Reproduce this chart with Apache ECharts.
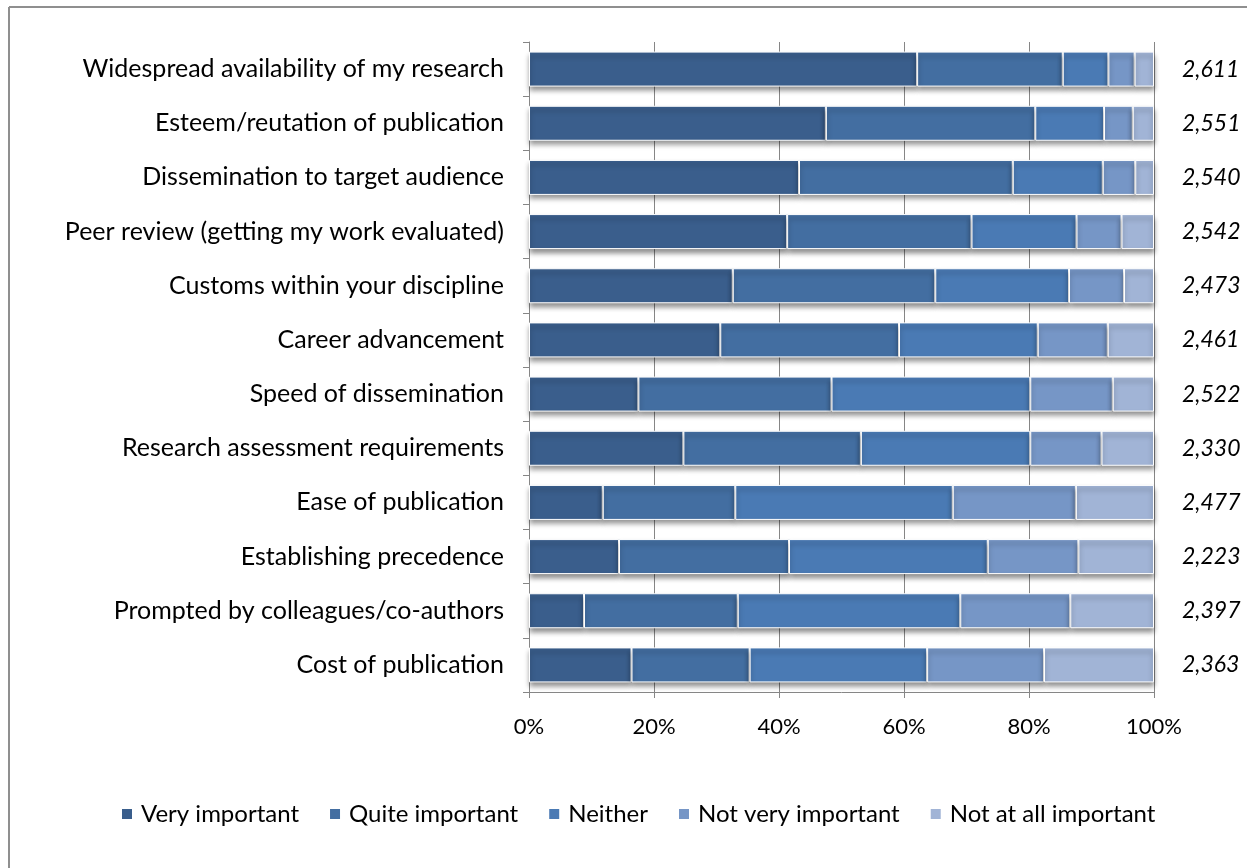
<!DOCTYPE html>
<html>
<head>
<meta charset="utf-8">
<script src="https://cdn.jsdelivr.net/npm/echarts@6/dist/echarts.min.js"></script>
<style>
html,body{margin:0;padding:0;background:#fff;}
#chart{width:1247px;height:868px;}
</style>
</head>
<body>
<div id="chart"></div>
<script>
const categories = [
  'Widespread availability of my research',
  'Esteem/reutation of publication',
  'Dissemination to target audience',
  'Peer review (getting my work evaluated)',
  'Customs within your discipline',
  'Career advancement',
  'Speed of dissemination',
  'Research assessment requirements',
  'Ease of publication',
  'Establishing precedence',
  'Prompted by colleagues/co-authors',
  'Cost of publication'
];
const respondents = ['2,611','2,551','2,540','2,542','2,473','2,461','2,522','2,330','2,477','2,223','2,397','2,363'];
const veryImportant  = [62.1, 47.5, 43.2, 41.3, 32.6, 30.6, 17.5, 24.7, 11.8, 14.4, 8.8, 16.4];
const quiteImportant = [23.3, 33.5, 34.2, 29.5, 32.4, 28.6, 30.9, 28.4, 21.2, 27.2, 24.6, 18.9];
const neither        = [7.3, 11.0, 14.4, 16.8, 21.4, 22.2, 31.8, 27.1, 34.8, 31.8, 35.6, 28.4];
const notVery        = [4.2, 4.6, 5.2, 7.2, 8.8, 11.2, 13.2, 11.4, 19.7, 14.5, 17.6, 18.7];
const notAtAll       = [3.1, 3.4, 3.0, 5.2, 4.8, 7.4, 6.6, 8.4, 12.5, 12.1, 13.4, 17.6];
const seriesNames = ['Very important','Quite important','Neither','Not very important','Not at all important'];
const seriesColors = ['#3A5E8C','#436EA1','#4A7AB4','#7696C6','#A1B4D6'];
const seriesData = [veryImportant, quiteImportant, neither, notVery, notAtAll];

const FONT = 'Lato';
const chart = echarts.init(document.getElementById('chart'), null, {renderer:'canvas'});
chart.setOption({
  animation:false,
  backgroundColor:'#fff',
  textStyle:{fontFamily:FONT},
  graphic:[
    {type:'line', shape:{x1:9,y1:7,x2:1247,y2:7}, style:{stroke:'#8f8f8f',lineWidth:2}},
    {type:'line', shape:{x1:9,y1:7,x2:9,y2:868}, style:{stroke:'#8f8f8f',lineWidth:2}}
  ],
  grid:{left:529, right:93, top:42, bottom:176, containLabel:false},
  legend:{
    bottom:37, left:115,
    itemWidth:12, itemHeight:12, itemGap:29, icon:'rect',
    textStyle:{fontFamily:FONT, fontSize:24, color:'#000', padding:[0,0,0,3]},
    data:seriesNames
  },
  xAxis:{
    type:'value', min:0, max:100, interval:20,
    axisLine:{show:true, lineStyle:{color:'#868686', width:1}},
    axisTick:{show:true, length:6, lineStyle:{color:'#868686'}},
    axisLabel:{formatter:'{value}%', fontSize:22, color:'#000', margin:24, fontFamily:FONT},
    splitLine:{show:true, lineStyle:{color:'#868686', width:1}}
  },
  yAxis:[{
    type:'category', data:categories, inverse:true,
    axisLine:{show:true, lineStyle:{color:'#868686'}},
    axisTick:{show:true, length:6, lineStyle:{color:'#868686'}},
    axisLabel:{fontSize:25, color:'#000', margin:25, fontFamily:FONT}
  },{
    type:'category', data:respondents, inverse:true, position:'right',
    axisLine:{show:false}, axisTick:{show:false},
    axisLabel:{fontSize:23, color:'#000', fontStyle:'italic', margin:28, align:'left', fontFamily:FONT}
  }],
  series: seriesData.map((d,i)=>({
    name:seriesNames[i], type:'bar', stack:'total', data:d,
    barWidth:35,
    itemStyle:{color:seriesColors[i], borderColor:'#fff', borderWidth:1,
      shadowColor:'rgba(0,0,0,0.45)', shadowBlur:5, shadowOffsetY:4}
  }))
});
</script>
</body>
</html>
